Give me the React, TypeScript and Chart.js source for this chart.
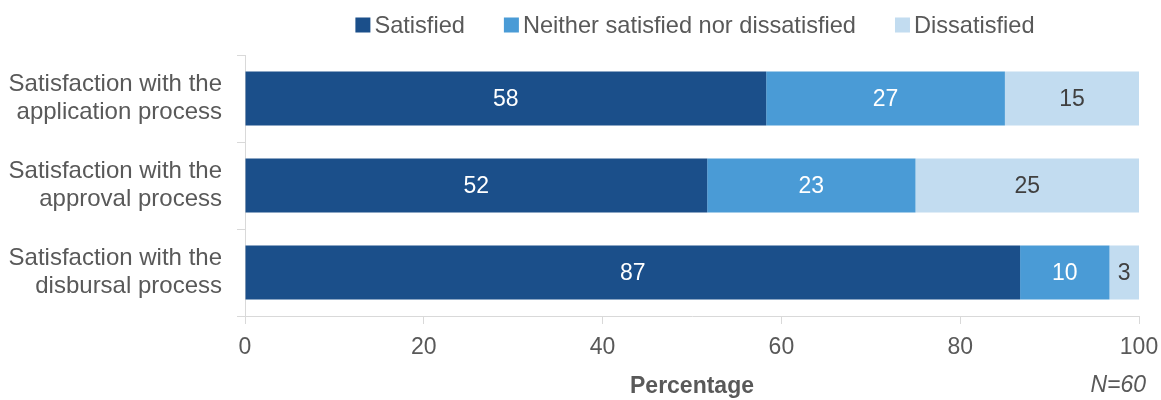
import React, { useEffect, useRef } from 'react';
import { Chart, registerables } from 'chart.js';

Chart.register(...registerables);

const categories = [
  ['Satisfaction with the', 'application process'],
  ['Satisfaction with the', 'approval process'],
  ['Satisfaction with the', 'disbursal process'],
];
const seriesNames = ['Satisfied', 'Neither satisfied nor dissatisfied', 'Dissatisfied'];
const satisfied = [58.3, 51.7, 86.7];
const neither = [26.7, 23.3, 10.0];
const dissatisfied = [15.0, 25.0, 3.3];
const xTickMin = 0;
const xTickMax = 100;
const xTickStep = 20;
const axisTitle = 'Percentage';
const sampleNote = 'N=60';

const seriesColors = ['#1B4F8A', '#4A9BD6', '#C2DCF0'];
const labelColors = ['#FFFFFF', '#FFFFFF', '#404040'];
const textColor = '#595959';
const lineColor = '#D9D9D9';
const FONT = '"Liberation Sans", Arial, sans-serif';

const legendPlugin = {
  id: 'customLegend',
  afterDraw(chart: any) {
    const ctx = chart.ctx;
    const ca = chart.chartArea;
    ctx.save();
    ctx.font = `23.6px ${FONT}`;
    ctx.textBaseline = 'middle';
    ctx.textAlign = 'left';
    const box = 15;
    const gap = 4;
    const itemGap = 39;
    const widths = seriesNames.map((n) => ctx.measureText(n).width);
    const total = widths.reduce((a, w) => a + box + gap + w, 0) + itemGap * (seriesNames.length - 1);
    let x = (ca.left + ca.right) / 2 - total / 2 + 3;
    const y = 25;
    seriesNames.forEach((n, i) => {
      ctx.fillStyle = seriesColors[i];
      ctx.fillRect(x, y - box / 2, box, box);
      ctx.fillStyle = textColor;
      ctx.fillText(n, x + box + gap, y + 1);
      x += box + gap + widths[i] + itemGap;
    });
    ctx.font = `italic 23px ${FONT}`;
    ctx.textAlign = 'right';
    ctx.fillText(sampleNote, ca.right + 7, 386);
    ctx.restore();
  },
};

const dataLabelPlugin = {
  id: 'barLabels',
  afterDatasetsDraw(chart: any) {
    const ctx = chart.ctx;
    ctx.save();
    ctx.font = `23px ${FONT}`;
    ctx.textAlign = 'center';
    ctx.textBaseline = 'middle';
    chart.data.datasets.forEach((ds: any, di: number) => {
      const meta = chart.getDatasetMeta(di);
      meta.data.forEach((el: any, i: number) => {
        const v = ds.data[i];
        ctx.fillStyle = labelColors[di];
        ctx.fillText(String(Math.round(v)), (el.x + el.base) / 2, el.y + 1);
      });
    });
    ctx.restore();
  },
};

export default function App() {
  const ref = useRef<HTMLCanvasElement | null>(null);
  useEffect(() => {
    if (!ref.current) return;
    const allSeries = [satisfied, neither, dissatisfied];
    const chart = new Chart(ref.current, {
      type: 'bar',
      data: {
        labels: categories,
        datasets: allSeries.map((d, i) => ({
          label: seriesNames[i],
          data: d,
          backgroundColor: seriesColors[i],
          borderWidth: 0,
          categoryPercentage: 1,
          barPercentage: 0.62,
        })),
      },
      options: {
        indexAxis: 'y',
        animation: false,
        responsive: true,
        maintainAspectRatio: false,
        layout: { padding: { top: 55, right: 22, left: 0, bottom: 0 } },
        plugins: {
          legend: { display: false },
          tooltip: { enabled: false },
        },
        scales: {
          x: {
            stacked: true,
            min: xTickMin,
            max: xTickMax,
            ticks: {
              stepSize: xTickStep,
              color: textColor,
              font: { family: FONT, size: 23 },
              padding: 10,
            },
            grid: { drawOnChartArea: false, drawTicks: true, tickLength: 8, color: lineColor },
            border: { color: lineColor },
            title: {
              display: true,
              text: axisTitle,
              color: textColor,
              font: { family: FONT, size: 23, weight: 'bold' },
              padding: { top: 0, bottom: 0 },
            },
            afterFit(scale: any) {
              scale.height = 84;
              scale.paddingLeft = 0;
              scale.paddingRight = 0;
            },
          },
          y: {
            stacked: true,
            ticks: {
              color: textColor,
              font: { family: FONT, size: 24, lineHeight: 1.17 },
              padding: 15,
            },
            grid: { offset: true, drawOnChartArea: false, drawTicks: true, tickLength: 8, color: lineColor },
            border: { color: lineColor },
            afterFit(scale: any) {
              scale.width = 245;
            },
          },
        },
      },
      plugins: [legendPlugin, dataLabelPlugin],
    } as any);
    return () => chart.destroy();
  }, []);
  return (
    <div
      style={{
        position: 'fixed',
        left: 0,
        top: 0,
        width: '1161px',
        height: '400px',
        background: '#ffffff',
      }}
    >
      <canvas ref={ref} />
    </div>
  );
}
